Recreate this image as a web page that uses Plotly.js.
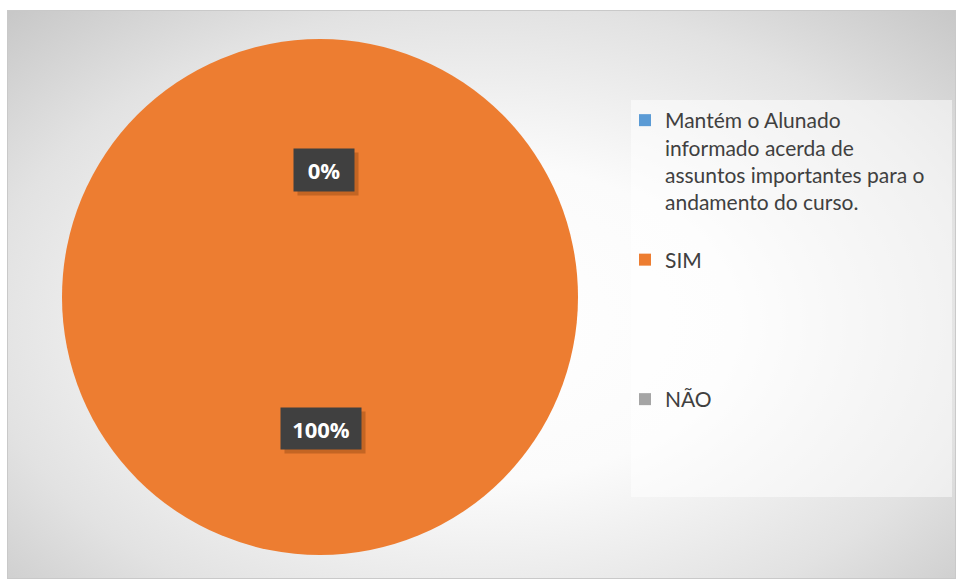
<!DOCTYPE html>
<html>
<head>
<meta charset="utf-8">
<script src="https://cdn.plot.ly/plotly-3.0.1.min.js"></script>
<style>
  html, body { margin: 0; padding: 0; background: #ffffff; }
  #bg {
    position: absolute; left: 7px; top: 10px; width: 947px; height: 567px;
    border: 1px solid #c9c9c9;
    background: radial-gradient(ellipse 75% 80% at 50% 55%, #ffffff 0%, #fbfbfb 35%, #e2e2e2 70%, #c3c3c3 100%);
  }
  #chart { position: absolute; left: 0; top: 0; width: 956px; height: 579px; }
</style>
</head>
<body>
<div id="bg"></div>
<div id="chart"></div>
<script>
// Data
const categories = [
  "Mantém o Alunado<br>informado acerda de<br>assuntos importantes para o<br>andamento do curso.",
  "SIM",
  "NÃO"
];
const values = [0, 100, 0];
const colors = ["#5B9BD5", "#ED7D31", "#A5A5A5"];
const padLines = [1, 4, 0];

const total = values.reduce((a, b) => a + b, 0);
const pctText = values.map(v => Math.round(100 * v / total) + "%");

const legendLabels = categories.map((c, i) => c + "<br> ".repeat(padLines[i]));

const W = 956, H = 579;
const cx = 320, cy = 297, R = 258;

const trace = {
  type: "pie",
  labels: legendLabels,
  values: values,
  marker: { colors: colors, line: { width: 0 } },
  sort: false,
  direction: "clockwise",
  rotation: 0,
  textinfo: "none",
  hoverinfo: "label+percent",
  domain: { x: [(cx - R) / W, (cx + R) / W], y: [(H - cy - R) / H, (H - cy + R) / H] },
  showlegend: true
};

// data labels: first category's percentage near the top, main slice's near the bottom
const labelsToShow = [
  { text: pctText[0], pos: [324, 170], w: 58, h: 40 },
  { text: pctText[1], pos: [321, 428], w: 78, h: 39 }
];
const annotations = [];
labelsToShow.forEach(l => {
  annotations.push({
    xref: "paper", yref: "paper", x: l.pos[0] / W, y: (H - l.pos[1]) / H,
    xanchor: "center", yanchor: "middle",
    text: "\u00a0", showarrow: false, width: l.w, height: l.h,
    bgcolor: "rgba(90,40,0,0.28)", font: { size: 10, color: "rgba(0,0,0,0)" },
    xshift: 4, yshift: -4, borderpad: 1
  });
  annotations.push({
    xref: "paper", yref: "paper", x: l.pos[0] / W, y: (H - l.pos[1]) / H,
    xanchor: "center", yanchor: "middle",
    text: "<b>" + l.text + "</b>", showarrow: false, width: l.w, height: l.h,
    bgcolor: "#404040", font: { size: 22, color: "#ffffff", family: "Open Sans" },
    borderpad: 1
  });
});

const layout = {
  width: W, height: H,
  margin: { l: 0, r: 0, t: 0, b: 0 },
  paper_bgcolor: "rgba(0,0,0,0)",
  plot_bgcolor: "rgba(0,0,0,0)",
  showlegend: true,
  legend: {
    x: 625 / W, y: (H - 100) / H, xanchor: "left", yanchor: "top",
    bgcolor: "rgba(0,0,0,0)", valign: "top",
    font: { family: "Lato", size: 21, color: "#404040" },
    traceorder: "normal"
  },
  shapes: [{
    type: "rect", xref: "paper", yref: "paper", layer: "below",
    x0: 631 / W, x1: 952 / W, y0: (H - 497) / H, y1: (H - 100) / H,
    fillcolor: "rgba(255,255,255,0.5)", line: { width: 0 }
  }],
  annotations: annotations
};

Plotly.newPlot("chart", [trace], layout, { displayModeBar: false, staticPlot: true });
</script>
</body>
</html>
